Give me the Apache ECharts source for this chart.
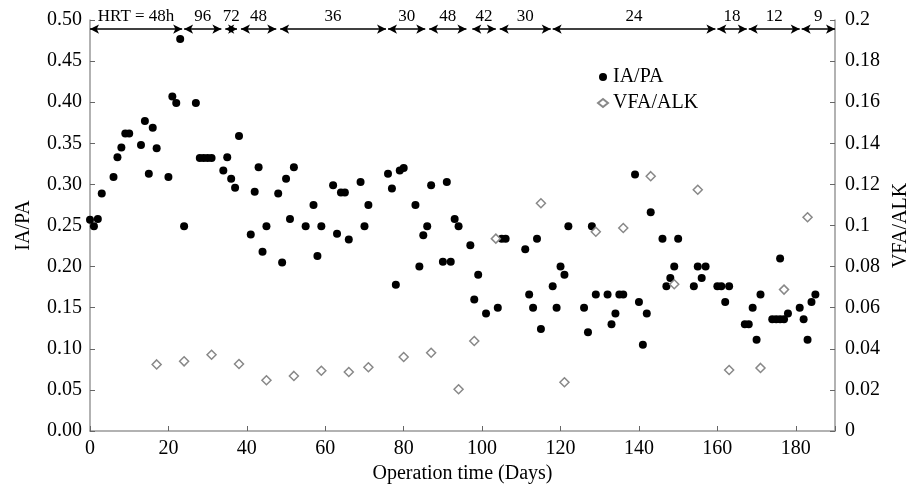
<!DOCTYPE html>
<html>
<head>
<meta charset="utf-8">
<script src="https://cdn.jsdelivr.net/npm/echarts@6/dist/echarts.min.js"></script>
<style>
  html, body { margin: 0; padding: 0; background: #fff; }
  #chart { width: 912px; height: 492px; }
</style>
</head>
<body>
<div id="chart"></div>
<script>
// IA/PA (left axis)
const iaDays = [0, 1, 2, 3, 6, 7, 8, 9, 10, 13, 14, 15, 16, 17, 20, 21, 22, 23, 24, 27,
    28, 29, 30, 31, 34, 35, 36, 37, 38, 41, 42, 43, 44, 45, 48, 49, 50, 51, 52, 55,
    57, 58, 59, 62, 63, 64, 65, 66, 69, 70, 71, 76, 77, 78, 79, 80, 83, 84, 85, 86,
    87, 90, 91, 92, 93, 94, 97, 98, 99, 101, 104, 105, 106, 111, 112, 113, 114, 115, 118, 119,
    120, 121, 122, 126, 127, 128, 129, 132, 133, 134, 135, 136, 139, 140, 141, 142, 143, 146, 147, 148,
    149, 150, 154, 155, 156, 157, 160, 161, 162, 163, 167, 168, 169, 170, 171, 174, 175, 176, 176, 177,
    178, 181, 182, 183, 184, 185];
const iaValues = [0.257, 0.249, 0.258, 0.289, 0.309, 0.333, 0.345, 0.362, 0.362, 0.348, 0.377, 0.313, 0.369, 0.344, 0.309, 0.407, 0.399, 0.477, 0.249, 0.399,
    0.332, 0.332, 0.332, 0.332, 0.317, 0.333, 0.307, 0.296, 0.359, 0.239, 0.291, 0.321, 0.218, 0.249, 0.289, 0.205, 0.307, 0.258, 0.321, 0.249,
    0.275, 0.213, 0.249, 0.299, 0.240, 0.290, 0.290, 0.233, 0.303, 0.249, 0.275, 0.313, 0.295, 0.178, 0.317, 0.320, 0.275, 0.200, 0.238, 0.249,
    0.299, 0.206, 0.303, 0.206, 0.258, 0.249, 0.226, 0.160, 0.190, 0.143, 0.150, 0.234, 0.234, 0.221, 0.166, 0.150, 0.234, 0.124, 0.176, 0.150,
    0.200, 0.190, 0.249, 0.150, 0.120, 0.249, 0.166, 0.166, 0.130, 0.143, 0.166, 0.166, 0.312, 0.157, 0.105, 0.143, 0.266, 0.234, 0.176, 0.186,
    0.200, 0.234, 0.176, 0.200, 0.186, 0.200, 0.176, 0.176, 0.157, 0.176, 0.130, 0.130, 0.150, 0.111, 0.166, 0.136, 0.136, 0.136, 0.210, 0.136,
    0.143, 0.150, 0.136, 0.111, 0.157, 0.166];

// VFA/ALK (right axis)
const vfaDays = [17, 24, 31, 38, 45, 52, 59, 66, 71, 80, 87, 94, 98, 103.5, 115, 121, 129, 136, 143, 149, 155, 163, 171, 177, 183];
const vfaValues = [0.0324, 0.0339, 0.0371, 0.0326, 0.0247, 0.0268, 0.0293, 0.0287, 0.031, 0.036, 0.0381, 0.0203, 0.0438, 0.0936, 0.1108,
    0.0237, 0.097, 0.0988, 0.124, 0.0714, 0.1174, 0.0297, 0.0307, 0.0688, 0.104];

// HRT periods along the top
const hrtLabels = ['HRT = 48h', '96', '72', '48', '36', '30', '48', '42', '30', '24', '18', '12', '9'];
const hrtStart = [0, 24, 34.5, 38.5, 48.5, 76, 86.5, 97.5, 104.5, 118, 160, 168, 181.5];
const hrtEnd = [23.5, 33.5, 37.5, 47.5, 75.5, 85.5, 96, 103.5, 117.5, 159.5, 167.5, 181, 190];
const hrtLevel = 0.489;

const font = 'Liberation Serif';
const axisColor = '#999';

const hrtLines = hrtLabels.map((name, i) => [
    { name: name, coord: [hrtStart[i], hrtLevel] },
    { coord: [hrtEnd[i], hrtLevel] }
]);

const chart = echarts.init(document.getElementById('chart'));
chart.setOption({
    animation: false,
    textStyle: { fontFamily: font, color: '#000' },
    grid: { left: 90, right: 77, top: 20, bottom: 61, containLabel: false, outerBoundsMode: 'none' },
    legend: {
        orient: 'vertical',
        left: 592,
        top: 62,
        itemGap: 6,
        itemWidth: 10,
        itemHeight: 8,
        textStyle: { fontFamily: font, fontSize: 20, color: '#000' },
        data: ['IA/PA', 'VFA/ALK']
    },
    xAxis: {
        type: 'value',
        min: 0,
        max: 190,
        interval: 20,
        name: 'Operation time (Days)',
        nameLocation: 'middle',
        nameGap: 30,
        nameTextStyle: { fontFamily: font, fontSize: 20, color: '#000' },
        axisLine: { lineStyle: { color: axisColor, width: 1.5 } },
        axisTick: { inside: true, length: 5, lineStyle: { color: '#666' } },
        axisLabel: {
            fontFamily: font, fontSize: 20, color: '#000', margin: 8,
            formatter: v => (v % 20 === 0 ? String(v) : '')
        },
        splitLine: { show: false }
    },
    yAxis: [
        {
            type: 'value',
            min: 0,
            max: 0.5,
            interval: 0.05,
            name: 'IA/PA',
            nameLocation: 'middle',
            nameGap: 56,
            nameTextStyle: { fontFamily: font, fontSize: 20, color: '#000' },
            axisLine: { show: true, lineStyle: { color: axisColor, width: 1.5 } },
            axisTick: { show: true, inside: true, length: 5, lineStyle: { color: '#666' } },
            axisLabel: { fontFamily: font, fontSize: 20, color: '#000', margin: 8, formatter: v => v.toFixed(2) },
            splitLine: { show: false }
        },
        {
            type: 'value',
            min: 0,
            max: 0.2,
            interval: 0.02,
            name: 'VFA/ALK',
            nameLocation: 'middle',
            nameGap: 46,
            nameRotate: 90,
            nameTextStyle: { fontFamily: font, fontSize: 20, color: '#000' },
            axisLine: { show: true, lineStyle: { color: axisColor, width: 1.5 } },
            axisTick: { show: true, inside: true, length: 5, lineStyle: { color: '#666' } },
            axisLabel: { fontFamily: font, fontSize: 20, color: '#000', margin: 10, formatter: v => String(+v.toFixed(2)) },
            splitLine: { show: false }
        }
    ],
    series: [
        {
            name: 'IA/PA',
            type: 'scatter',
            yAxisIndex: 0,
            symbol: 'circle',
            symbolSize: 8,
            itemStyle: { color: '#000', opacity: 1 },
            data: iaDays.map((d, i) => [d, iaValues[i]]),
            markLine: {
                silent: true,
                symbol: ['arrow', 'arrow'],
                symbolSize: [7, 9],
                lineStyle: { color: '#000', width: 1.5, type: 'solid' },
                label: {
                    show: true,
                    position: 'middle',
                    formatter: '{b}',
                    fontFamily: font,
                    fontSize: 17,
                    color: '#000',
                    distance: 4
                },
                emphasis: { disabled: true },
                data: hrtLines
            }
        },
        {
            name: 'VFA/ALK',
            type: 'scatter',
            yAxisIndex: 1,
            symbol: 'diamond',
            symbolSize: 9,
            itemStyle: { color: '#fff', borderColor: '#888', borderWidth: 1.5, opacity: 1 },
            data: vfaDays.map((d, i) => [d, vfaValues[i]])
        }
    ]
});

window.addEventListener('resize', function() {
    chart.resize();
});
</script>
</body>
</html>
